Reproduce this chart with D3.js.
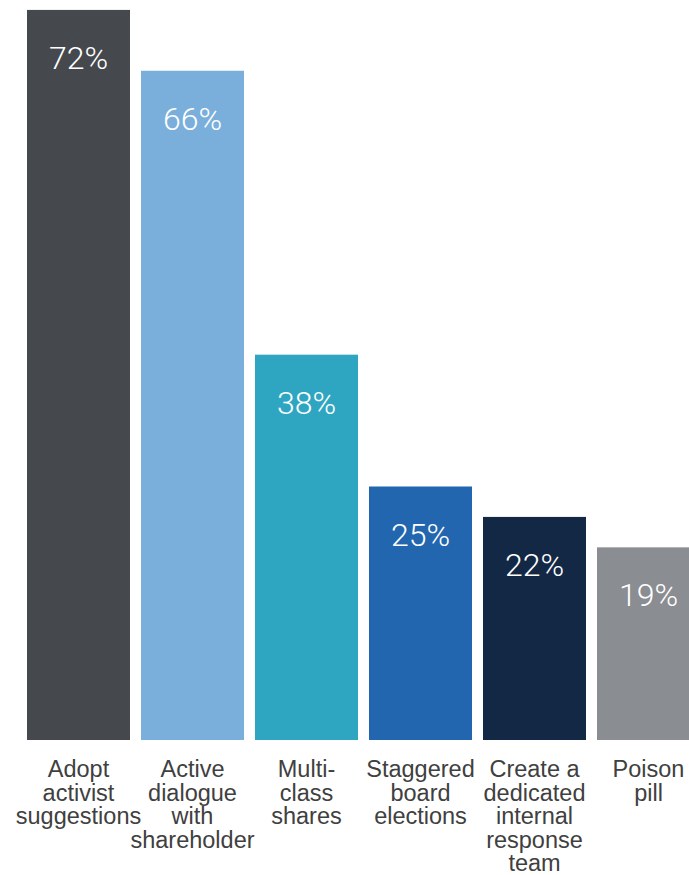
<!DOCTYPE html>
<html>
<head>
<meta charset="utf-8">
<script src="https://cdn.jsdelivr.net/npm/d3@7"></script>
<style>
  body { margin: 0; background: #fff; }
  svg { display: block; }
</style>
</head>
<body>
<script>
// data
var categories = [
    ["Adopt", "activist", "suggestions"],
    ["Active", "dialogue", "with", "shareholder"],
    ["Multi-", "class", "shares"],
    ["Staggered", "board", "elections"],
    ["Create a", "dedicated", "internal", "response", "team"],
    ["Poison", "pill"]
];
var values = [72, 66, 38, 25, 22, 19];
var colours = ["#45494d", "#7aaedb", "#2ea6c2", "#2266b0", "#132845", "#8a8d91"];

// dimensions
var width = 689;
var height = 875;
var baseline = 740;

var svg = d3.select("body")
    .append("svg")
    .attr("width", width)
    .attr("height", height);

// band: 103px bars, 11px gaps, first bar at x=27
var x = d3.scaleBand()
    .domain(d3.range(values.length))
    .range([27, 27 + 6 * 114 - 11])
    .paddingInner(11 / 114)
    .paddingOuter(0);

var y = d3.scaleLinear()
    .domain([0, 100])
    .range([baseline, baseline - 1014]);

// bars
svg.selectAll(".bar")
    .data(values)
    .enter().append("rect")
    .attr("class", "bar")
    .attr("x", function(d, i) { return x(i); })
    .attr("y", function(d) { return y(d); })
    .attr("width", x.bandwidth())
    .attr("height", function(d) { return baseline - y(d); })
    .attr("fill", function(d, i) { return colours[i]; });

// percentage labels inside bars
svg.selectAll(".val")
    .data(values)
    .enter().append("text")
    .attr("class", "val")
    .attr("x", function(d, i) { return x(i) + x.bandwidth() / 2; })
    .attr("y", function(d) { return y(d) + 59; })
    .attr("text-anchor", "middle")
    .style("font-family", "Roboto, 'Liberation Sans', sans-serif")
    .style("font-weight", 300)
    .style("font-size", "32px")
    .style("fill", "#fff")
    .text(function(d) { return d + "%"; });

// category labels under bars
var cat = svg.selectAll(".cat")
    .data(categories)
    .enter().append("text")
    .attr("class", "cat")
    .attr("text-anchor", "middle")
    .style("font-family", "'Liberation Sans', Arial, sans-serif")
    .style("font-size", "23.5px")
    .style("fill", "#404040");

cat.selectAll("tspan")
    .data(function(d, i) { return d.map(function(t) { return {t: t, i: i}; }); })
    .enter().append("tspan")
    .attr("x", function(d) { return x(d.i) + x.bandwidth() / 2; })
    .attr("y", function(d, j) { return 777 + j * 23.6; })
    .text(function(d) { return d.t; });
</script>
</body>
</html>
